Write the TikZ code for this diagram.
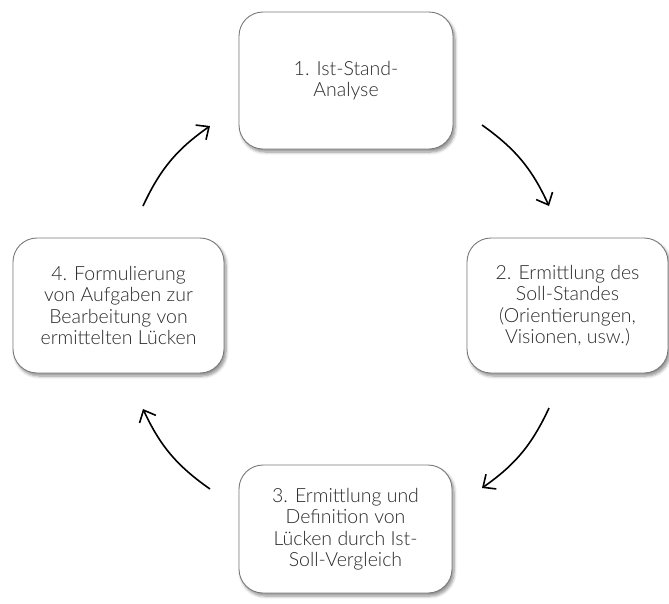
\documentclass[tikz,border=0pt]{standalone}
\usepackage{fontspec}
\setmainfont{Lato}[UprightFont={* Light}]
\usetikzlibrary{arrows.meta,shadows.blur}
\definecolor{boxedge}{HTML}{7A7A7A}
\definecolor{txt}{HTML}{2A2A2A}
\begin{document}
\begin{tikzpicture}[x=1pt,y=-1pt,
  stage/.style={draw=boxedge, line width=0.9pt, rounded corners=24pt, fill=white,
    align=center, text=txt, font=\fontsize{19.5}{21.5}\selectfont, inner sep=0pt,
    blur shadow={shadow xshift=2pt, shadow yshift=-3pt, shadow blur steps=6,
      shadow blur radius=3pt, shadow opacity=45}},
  flow/.style={-{Straight Barb[length=10pt,width=18pt]}, line width=1.6pt, bend left=15}]
\useasboundingbox (0,0) rectangle (669,603);
\node[stage, minimum width=214pt, minimum height=137pt] (s1) at (346,80.5) {1. Ist-Stand-\\Analyse};
\node[stage, minimum width=201pt, minimum height=135pt] (s2) at (567.5,305.5) {2. Ermittlung des\\Soll-Standes\\(Orientierungen,\\Visionen, usw.)};
\node[stage, minimum width=213pt, minimum height=128pt] (s3) at (345.5,529) {3. Ermittlung und\\Definition von\\Lücken durch Ist-\\Soll-Vergleich};
\node[stage, minimum width=211pt, minimum height=135pt] (s4) at (118.5,305.5) {4. Formulierung\\von Aufgaben zur\\Bearbeitung von\\ermittelten Lücken};
\coordinate (a1s) at (482,125);
\coordinate (a1e) at (549,206);
\coordinate (a2s) at (549,408);
\coordinate (a2e) at (482,488);
\coordinate (a3s) at (210,489);
\coordinate (a3e) at (143,409);
\coordinate (a4s) at (143,206);
\coordinate (a4e) at (210,126);
\draw[flow] (a1s) to (a1e);
\draw[flow] (a2s) to (a2e);
\draw[flow] (a3s) to (a3e);
\draw[flow] (a4s) to (a4e);
\end{tikzpicture}
\end{document}
